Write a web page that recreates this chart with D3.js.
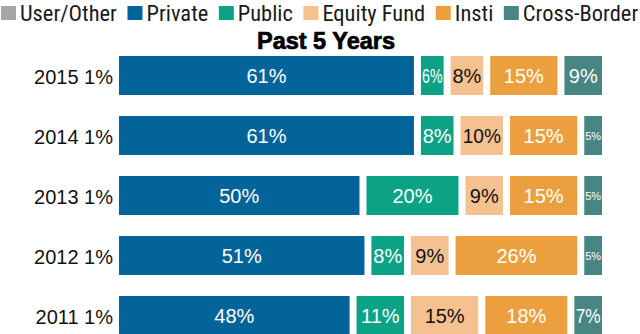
<!DOCTYPE html>
<html>
<head>
<meta charset="utf-8">
<script src="https://cdn.jsdelivr.net/npm/d3@7"></script>
<style>
  html, body { margin: 0; padding: 0; background: #ffffff; }
  svg { display: block; }
</style>
</head>
<body>
<svg id="chart" width="640" height="334"></svg>
<script>
// ---- data ----
const years = ["2015", "2014", "2013", "2012", "2011"];
const userOther = [1, 1, 1, 1, 1];
const privateVals = [61, 61, 50, 51, 48];
const publicVals = [6, 8, 20, 8, 11];
const equityFundVals = [8, 10, 9, 9, 15];
const instiVals = [15, 15, 15, 26, 18];
const crossBorderVals = [9, 5, 5, 5, 7];
const legendNames = ["User/Other", "Private", "Public", "Equity Fund", "Insti", "Cross-Border"];
const barKeys = ["Private", "Public", "Equity Fund", "Insti", "Cross-Border"];
const titleText = "Past 5 Years";

// ---- styles ----
const colorMap = {
  "User/Other": "#a6a6a4",
  "Private": "#03649a",
  "Public": "#0ca286",
  "Equity Fund": "#f5c190",
  "Insti": "#eb9f3e",
  "Cross-Border": "#478683"
};
const labelColor = { "Equity Fund": "#111111" };
const SANS = '"Liberation Sans", Arial, sans-serif';
const COND = '"Roboto Condensed", "Liberation Sans", sans-serif';

const rows = years.map((y, i) => ({
  year: y,
  "User/Other": userOther[i],
  "Private": privateVals[i],
  "Public": publicVals[i],
  "Equity Fund": equityFundVals[i],
  "Insti": instiVals[i],
  "Cross-Border": crossBorderVals[i]
}));

const svg = d3.select("#chart");
const gap = 7;
const total = d3.max(rows, r => d3.sum(barKeys, k => r[k]));
const x = d3.scaleLinear().domain([0, total]).range([119, 609]);
const y = d3.scaleBand().domain(years).range([45.5, 345.5]).paddingInner(0.35).paddingOuter(0.175);

// ---- legend ----
const legend = svg.append("g");
let lx = 1;
legendNames.forEach(name => {
  legend.append("rect").attr("x", lx).attr("y", 6).attr("width", 15).attr("height", 14)
    .attr("fill", colorMap[name]);
  const t = legend.append("text").attr("x", lx + 19).attr("y", 21)
    .style("font-family", COND).style("font-size", "21.5px").attr("fill", "#1a1a1a").text(name);
  const w = t.node().getComputedTextLength() * 1.045;
  t.attr("textLength", w).attr("lengthAdjust", "spacingAndGlyphs");
  lx += 19 + w + 10.5;
});

// ---- title ----
svg.append("text").attr("x", 326).attr("y", 48.5).attr("text-anchor", "middle")
  .style("font-family", SANS).style("font-weight", "bold").style("font-size", "23.5px")
  .attr("fill", "#000").attr("stroke", "#000").attr("stroke-width", 0.7)
  .text(titleText);

// ---- bars ----
const stack = d3.stack().keys(barKeys)(rows);
const layers = svg.append("g").selectAll("g").data(stack).join("g")
  .attr("fill", d => colorMap[d.key]);

layers.selectAll("rect").data(d => d.map(p => ({ key: d.key, p }))).join("rect")
  .attr("x", d => x(d.p[0]))
  .attr("y", d => y(d.p.data.year))
  .attr("width", d => Math.max(0, x(d.p[1]) - x(d.p[0]) - gap))
  .attr("height", y.bandwidth());

// segment labels
const labelG = svg.append("g");
stack.forEach(layer => {
  layer.forEach(p => {
    const x0 = x(p[0]), x1 = x(p[1]) - gap, w = x1 - x0;
    const small = w < 22;
    const t = labelG.append("text")
      .attr("x", (x0 + x1) / 2)
      .attr("y", y(p.data.year) + y.bandwidth() / 2 + (small ? 4 : 7.5))
      .attr("text-anchor", "middle")
      .style("font-family", SANS)
      .style("font-size", small ? "11px" : "20px")
      .attr("fill", labelColor[layer.key] || "#ffffff")
      .text((p[1] - p[0]) + "%");
    const len = t.node().getComputedTextLength();
    if (len > w * 0.9) {
      t.attr("textLength", w * 0.9).attr("lengthAdjust", "spacingAndGlyphs");
    }
  });
});

// row labels (year + User/Other share)
svg.append("g").selectAll("text").data(rows).join("text")
  .attr("x", 113)
  .attr("y", d => y(d.year) + y.bandwidth() / 2 + 8)
  .attr("text-anchor", "end")
  .style("font-family", SANS)
  .style("font-size", "20px")
  .attr("fill", "#111")
  .text(d => `${d.year} ${d["User/Other"]}%`);
</script>
</body>
</html>
